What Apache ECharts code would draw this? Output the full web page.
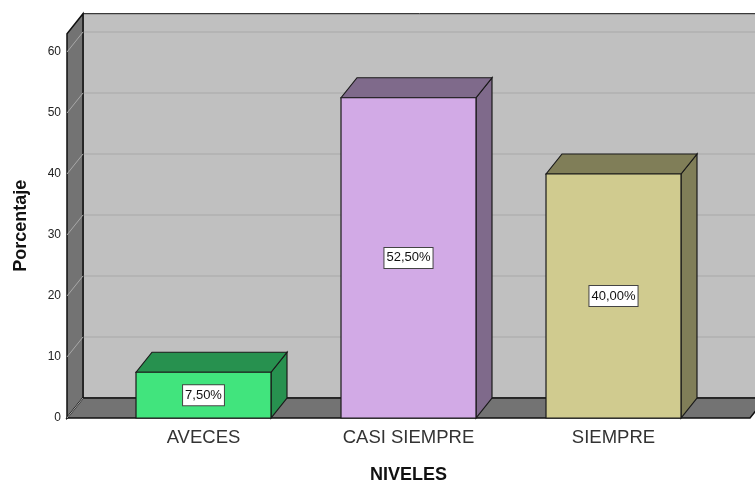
<!DOCTYPE html>
<html>
<head>
<meta charset="utf-8">
<script src="https://cdn.jsdelivr.net/npm/echarts@6/dist/echarts.min.js"></script>
<style>
html,body{margin:0;padding:0;background:#fff;overflow:hidden;}
#chart{width:755px;height:482px;}
</style>
</head>
<body>
<div id="chart"></div>
<script>
// ---- data ----
const categories = ['AVECES', 'CASI SIEMPRE', 'SIEMPRE'];
const values = [7.5, 52.5, 40.0];
const valueLabels = ['7,50%', '52,50%', '40,00%'];
const yTicks = [0, 10, 20, 30, 40, 50, 60];

// ---- styles ----
const frontColors = ['#41e47d', '#d2aae6', '#d0cb8f'];
const sideColors = ['#27914f', '#7f6a8b', '#807e58'];
const DX = 16, DY = 20;
const WALL_EXT = 34;
const FONT = '"Liberation Sans", Arial, sans-serif';

const chart = echarts.init(document.getElementById('chart'), null, {renderer: 'canvas', width: 755, height: 482});

function renderWalls(params, api) {
  const cs = params.coordSys;
  const x0 = cs.x - WALL_EXT;
  const x1 = cs.x + cs.width + WALL_EXT;
  const yb = api.coord([0, 0])[1];
  const yt = cs.y;
  const children = [];
  children.push({
    type: 'rect',
    shape: {x: x0 + DX, y: yt - DY, width: (x1 + DX + 60) - (x0 + DX), height: yb - yt},
    style: {fill: '#c0c0c0', stroke: '#111', lineWidth: 1}
  });
  yTicks.forEach(function (t) {
    const y = api.coord([0, t])[1];
    if (t > 0) {
      children.push({
        type: 'line',
        shape: {x1: x0 + DX, y1: y - DY, x2: x1 + DX + 60, y2: y - DY},
        style: {stroke: '#b4b4b4', lineWidth: 2}
      });
    }
  });
  children.push({
    type: 'polygon',
    shape: {points: [[x0, yb], [x0, yt], [x0 + DX, yt - DY], [x0 + DX, yb - DY]]},
    style: {fill: '#737373', stroke: '#111', lineWidth: 1.5}
  });
  children.push({
    type: 'polygon',
    shape: {points: [[x0, yb], [x0 + DX, yb - DY], [x1 + DX, yb - DY], [x1, yb]]},
    style: {fill: '#737373', stroke: '#111', lineWidth: 1.5}
  });
  yTicks.forEach(function (t) {
    const y = api.coord([0, t])[1];
    children.push({
      type: 'line',
      shape: {x1: x0, y1: y, x2: x0 + DX, y2: y - DY},
      style: {stroke: '#a8a8a8', lineWidth: 1}
    });
  });
  return {type: 'group', children: children};
}

function renderBars(params, api) {
  const idx = api.value(0);
  const v = api.value(1);
  const top = api.coord([idx, v]);
  const base = api.coord([idx, 0]);
  const bw = api.size([1, 0])[0] * 0.6585;
  const xl = top[0] - bw / 2, xr = top[0] + bw / 2;
  const i = params.dataIndex;
  const stroke = {stroke: '#1a1a1a', lineWidth: 1.2};
  return {
    type: 'group',
    children: [
      {
        type: 'polygon',
        shape: {points: [[xr, base[1]], [xr, top[1]], [xr + DX, top[1] - DY], [xr + DX, base[1] - DY]]},
        style: Object.assign({fill: sideColors[i]}, stroke)
      },
      {
        type: 'polygon',
        shape: {points: [[xl, top[1]], [xl + DX, top[1] - DY], [xr + DX, top[1] - DY], [xr, top[1]]]},
        style: Object.assign({fill: sideColors[i]}, stroke)
      },
      {
        type: 'rect',
        shape: {x: xl, y: top[1], width: bw, height: base[1] - top[1]},
        style: Object.assign({fill: frontColors[i]}, stroke)
      },
      {
        type: 'text',
        x: top[0],
        y: (top[1] + base[1]) / 2,
        style: {
          text: valueLabels[i],
          align: 'center',
          verticalAlign: 'middle',
          fontFamily: FONT,
          fontSize: 13,
          fill: '#111',
          backgroundColor: '#ffffff',
          borderColor: '#444',
          borderWidth: 1,
          padding: [4, 2, 3, 2]
        }
      }
    ]
  };
}

chart.setOption({
  animation: false,
  backgroundColor: '#ffffff',
  grid: {left: 101, right: 39, top: 33.7, bottom: 64, containLabel: false, outerBoundsMode: 'none'},
  xAxis: {
    type: 'category',
    data: categories,
    axisLine: {show: false},
    axisTick: {show: false},
    axisLabel: {fontFamily: FONT, fontSize: 18.5, color: '#333', margin: 10},
    splitLine: {show: false},
    name: 'NIVELES',
    nameLocation: 'middle',
    nameGap: 48,
    nameTextStyle: {fontFamily: FONT, fontSize: 18, fontWeight: 'bold', color: '#111'}
  },
  yAxis: {
    type: 'value',
    min: 0,
    max: 63,
    interval: 10,
    offset: WALL_EXT,
    axisLine: {show: false},
    axisTick: {show: false},
    splitLine: {show: false},
    axisLabel: {
      fontFamily: FONT, fontSize: 12, color: '#222', margin: 6,
      formatter: function (v) { return yTicks.indexOf(v) >= 0 ? String(v) : ''; }
    },
    name: 'Porcentaje',
    nameLocation: 'middle',
    nameGap: 37,
    nameRotate: 90,
    nameTextStyle: {fontFamily: FONT, fontSize: 18, fontWeight: 'bold', color: '#111'}
  },
  series: [
    {
      type: 'custom',
      name: 'walls',
      coordinateSystem: 'cartesian2d',
      clip: false,
      silent: true,
      z: 1,
      renderItem: renderWalls,
      data: [[0, 0]]
    },
    {
      type: 'custom',
      name: 'Porcentaje',
      coordinateSystem: 'cartesian2d',
      clip: false,
      z: 2,
      renderItem: renderBars,
      encode: {x: 0, y: 1},
      data: categories.map(function (c, i) { return [i, values[i]]; })
    }
  ]
});
</script>
</body>
</html>
